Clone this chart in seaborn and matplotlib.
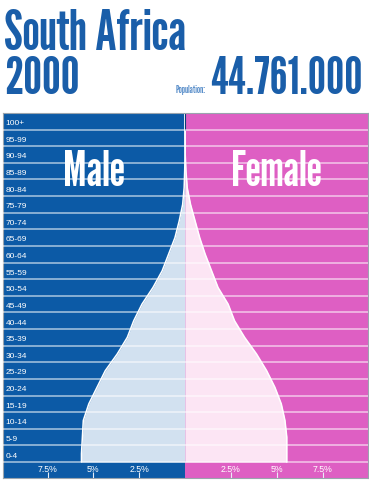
"""
Population pyramid: South Africa, 2000.
Share of total population per 5-year age group, male left / female right.
"""
import matplotlib.pyplot as plt
import numpy as np
import seaborn as sns

AGE_GROUPS = ["0-4", "5-9", "10-14", "15-19", "20-24", "25-29", "30-34",
              "35-39", "40-44", "45-49", "50-54", "55-59", "60-64", "65-69",
              "70-74", "75-79", "80-84", "85-89", "90-94", "95-99", "100+"]
MALE = [5.65, 5.6, 5.55, 5.25, 4.8, 4.35, 3.7, 3.15, 2.8, 2.35, 1.75,
        1.25, 0.9, 0.55, 0.32, 0.13, 0.05, 0.02, 0.0, 0.0, 0.0]
FEMALE = [5.55, 5.55, 5.45, 5.25, 4.9, 4.45, 3.9, 3.25, 2.7, 2.35, 1.8,
          1.45, 1.1, 0.8, 0.55, 0.3, 0.12, 0.05, 0.01, 0.0, 0.0]
TICK_VALUES = [-7.5, -5, -2.5, 2.5, 5, 7.5]
TICK_LABELS = ["7.5%", "5%", "2.5%", "2.5%", "5%", "7.5%"]
COUNTRY = "South Africa"
YEAR = "2000"
POPULATION = "44.761.000"

BLUE = "#0c5aa6"
LIGHT_BLUE = "#d2e1f0"
PINK = "#de5fc3"
LIGHT_PINK = "#fce5f4"
TITLE_BLUE = "#1a5ea9"
# tall condensed display face, with fallbacks
NARROW = ["League Gothic", "Oswald", "Barlow Condensed", "DejaVu Sans"]

sns.set_theme(style="white")
plt.rcParams["font.family"] = ["Liberation Sans", "DejaVu Sans"]

fig = plt.figure(figsize=(3.69, 4.80), dpi=100)
ax = fig.add_axes([3 / 369, 2 / 480, 365 / 369, 365 / 480])
ax.set_xlim(-9.93, 9.98)
ax.set_ylim(-1.46, 20.5)

ax.axvspan(-10, 0, color=BLUE, lw=0, zorder=0)
ax.axvspan(0, 10, color=PINK, lw=0, zorder=0)

# light silhouette, edges held flat to the outer row borders
ypos = np.arange(len(AGE_GROUPS), dtype=float)
y_ext = np.concatenate([[-0.5], ypos, [len(AGE_GROUPS) - 0.5]])
male_ext = np.array([MALE[0]] + MALE + [MALE[-1]])
female_ext = np.array([FEMALE[0]] + FEMALE + [FEMALE[-1]])
ax.fill_betweenx(y_ext, -male_ext, 0, color=LIGHT_BLUE, lw=0, zorder=1)
ax.fill_betweenx(y_ext, 0, female_ext, color=LIGHT_PINK, lw=0, zorder=1)
sns.lineplot(x=-male_ext, y=y_ext, orient="y", color="white", lw=1.1,
             ax=ax, zorder=2)
sns.lineplot(x=female_ext, y=y_ext, orient="y", color="white", lw=1.1,
             ax=ax, zorder=2)
ax.vlines(0, len(AGE_GROUPS) - 1.5, len(AGE_GROUPS) - 0.5,
          color="#0a3f75", lw=0.8, zorder=2)

# row separators
ax.hlines(np.arange(-0.5, len(AGE_GROUPS) - 0.5), -10, 10,
          color="white", alpha=0.55, lw=1.3, zorder=3)

for y, label in zip(ypos, AGE_GROUPS):
    ax.text(-9.8, y - 0.14, label, color="white", fontsize=6,
            ha="left", va="center", zorder=4)

for x, label in zip(TICK_VALUES, TICK_LABELS):
    ax.text(x, -0.93, label, color="white", fontsize=6.3, ha="center",
            va="center", zorder=4)

ax.text(-5, 16.9, "Male", color="white", fontsize=35, fontweight="bold",
        family=NARROW, ha="center", va="center", zorder=4)
ax.text(5, 16.9, "Female", color="white", fontsize=35, fontweight="bold",
        family=NARROW, ha="center", va="center", zorder=4)

ax.set_xticks(TICK_VALUES)
ax.set_yticks([])
ax.tick_params(axis="x", direction="in", length=4, width=0.8,
               color="#e8eef8", bottom=True, labelbottom=False)
ax.set_xlabel("")
ax.set_ylabel("")
for spine in ax.spines.values():
    spine.set_color("#9aa4ae")
    spine.set_linewidth(0.8)

fig.text(4 / 369, 1 - 50 / 480, COUNTRY, color=TITLE_BLUE, fontsize=40,
         fontweight="bold", family=NARROW, ha="left", va="baseline")
fig.text(4 / 369, 1 - 94 / 480, YEAR, color=TITLE_BLUE, fontsize=38,
         fontweight="bold", family=NARROW, ha="left", va="baseline")
fig.text(206 / 369, 1 - 93 / 480, "Population:", color="#5a8fca",
         fontsize=7.5, fontweight="bold", family=NARROW, ha="right",
         va="baseline")
fig.text(363 / 369, 1 - 94 / 480, POPULATION, color=TITLE_BLUE, fontsize=37,
         fontweight="bold", family=NARROW, ha="right", va="baseline")

fig.savefig("out.png", dpi=100)
